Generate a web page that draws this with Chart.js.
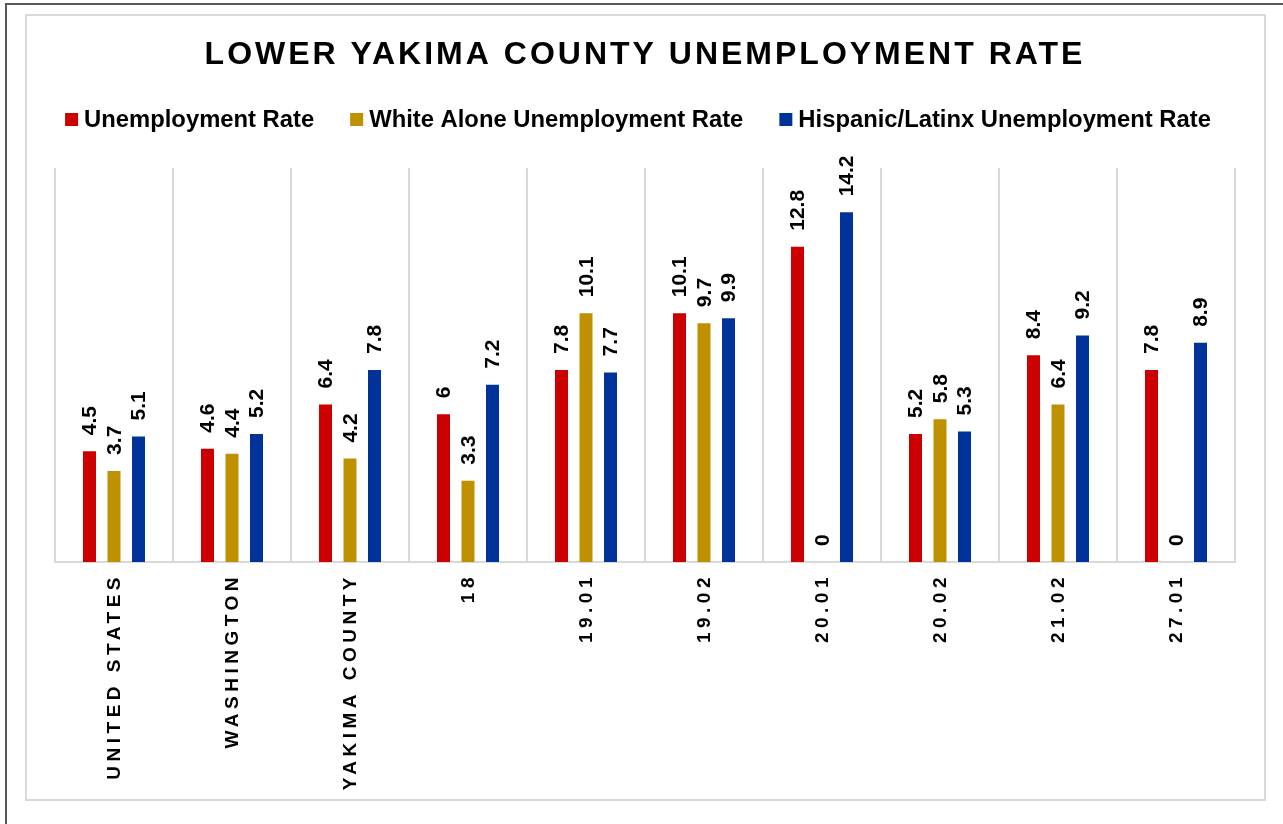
<!DOCTYPE html>
<html lang="en-US">
  <head>
    <meta charset="utf-8" />
    <title>Lower Yakima County Unemployment Rate</title>
    <style>
      body { margin: 0; background: #fff; overflow: hidden; }
      .outer {
        position: absolute; left: 5px; top: 3px; width: 1300px; height: 840px;
        border-left: 2px solid #595959; border-top: 2px solid #595959;
      }
      .inner {
        position: absolute; left: 25px; top: 14px; width: 1237px; height: 783px;
        border: 2px solid #d9d9d9;
      }
      #chart { position: absolute; left: 0; top: 0; }
    </style>
  </head>
  <body>
    <div class="outer"></div>
    <div class="inner"></div>
    <canvas id="chart" width="1283" height="824"></canvas>

    <script src="https://cdn.jsdelivr.net/npm/chart.js@4.4.0/dist/chart.umd.min.js"></script>
    <script>
      const TITLE = "LOWER YAKIMA COUNTY UNEMPLOYMENT RATE";
      const categories = ["UNITED STATES", "WASHINGTON", "YAKIMA COUNTY", "18", "19.01", "19.02", "20.01", "20.02", "21.02", "27.01"];
      const unemployment = [4.5, 4.6, 6.4, 6, 7.8, 10.1, 12.8, 5.2, 8.4, 7.8];
      const whiteAlone = [3.7, 4.4, 4.2, 3.3, 10.1, 9.7, 0, 5.8, 6.4, 0];
      const hispanic = [5.1, 5.2, 7.8, 7.2, 7.7, 9.9, 14.2, 5.3, 9.2, 8.9];

      const FONT = "'Liberation Sans', Arial, sans-serif";

      // title, legend, rotated category labels and value labels are drawn by hand
      // (letter spacing / rotation / tight legend layout)
      const textPlugin = {
        id: "texts",
        afterDraw(chart) {
          const ctx = chart.ctx;
          ctx.save();
          ctx.fillStyle = "#000";

          // title
          ctx.font = "bold 32px " + FONT;
          ctx.letterSpacing = "3px";
          ctx.textAlign = "center";
          ctx.textBaseline = "alphabetic";
          ctx.fillText(TITLE, 645, 64);

          // legend
          ctx.font = "bold 23.8px " + FONT;
          ctx.letterSpacing = "0px";
          ctx.textAlign = "left";
          const ds = chart.data.datasets;
          const widths = ds.map(d => 19 + ctx.measureText(d.label).width);
          const total = widths.reduce((a, b) => a + b, 0) + 36 * (ds.length - 1);
          let lx = 638 - total / 2;
          ds.forEach((d, i) => {
            ctx.fillStyle = d.backgroundColor;
            ctx.fillRect(lx, 113, 13, 13);
            ctx.fillStyle = "#000";
            ctx.fillText(d.label, lx + 19, 127);
            lx += widths[i] + 36;
          });

          // category labels
          const xs = chart.scales.x;
          ctx.font = "bold 19px " + FONT;
          ctx.letterSpacing = "4.5px";
          ctx.textAlign = "right";
          ctx.textBaseline = "middle";
          categories.forEach((c, i) => {
            const x = xs.getPixelForValue(i);
            ctx.save();
            ctx.translate(x + 1, chart.chartArea.bottom + 11);
            ctx.rotate(-Math.PI / 2);
            ctx.fillText(c, 0, 0);
            ctx.restore();
          });

          // value labels
          ctx.font = "bold 21px " + FONT;
          ctx.letterSpacing = "0px";
          ctx.textAlign = "left";
          ds.forEach((d, di) => {
            chart.getDatasetMeta(di).data.forEach((bar, i) => {
              ctx.save();
              ctx.translate(bar.x + 1, bar.y - 16);
              ctx.rotate(-Math.PI / 2);
              ctx.fillText(String(d.data[i]), 0, 0);
              ctx.restore();
            });
          });
          ctx.restore();
        }
      };

      new Chart(document.getElementById("chart"), {
        type: "bar",
        data: {
          labels: categories,
          datasets: [
            { label: "Unemployment Rate", data: unemployment, backgroundColor: "#cc0000" },
            { label: "White Alone Unemployment Rate", data: whiteAlone, backgroundColor: "#bf9000" },
            { label: "Hispanic/Latinx Unemployment Rate", data: hispanic, backgroundColor: "#003399" }
          ]
        },
        options: {
          responsive: false,
          animation: false,
          devicePixelRatio: 1,
          categoryPercentage: 0.623,
          barPercentage: 0.53,
          layout: { padding: { left: 55, right: 48, top: 168, bottom: 0 } },
          plugins: {
            title: { display: false },
            legend: { display: false },
            tooltip: { enabled: false }
          },
          scales: {
            x: {
              ticks: { display: false },
              grid: { color: "#d9d9d9", lineWidth: 2, drawTicks: false, offset: true },
              border: { color: "#d9d9d9", width: 2 },
              afterFit(scale) { scale.height = 262; }
            },
            y: {
              display: false,
              min: 0,
              max: 16
            }
          }
        },
        plugins: [textPlugin]
      });
    </script>
  </body>
</html>
